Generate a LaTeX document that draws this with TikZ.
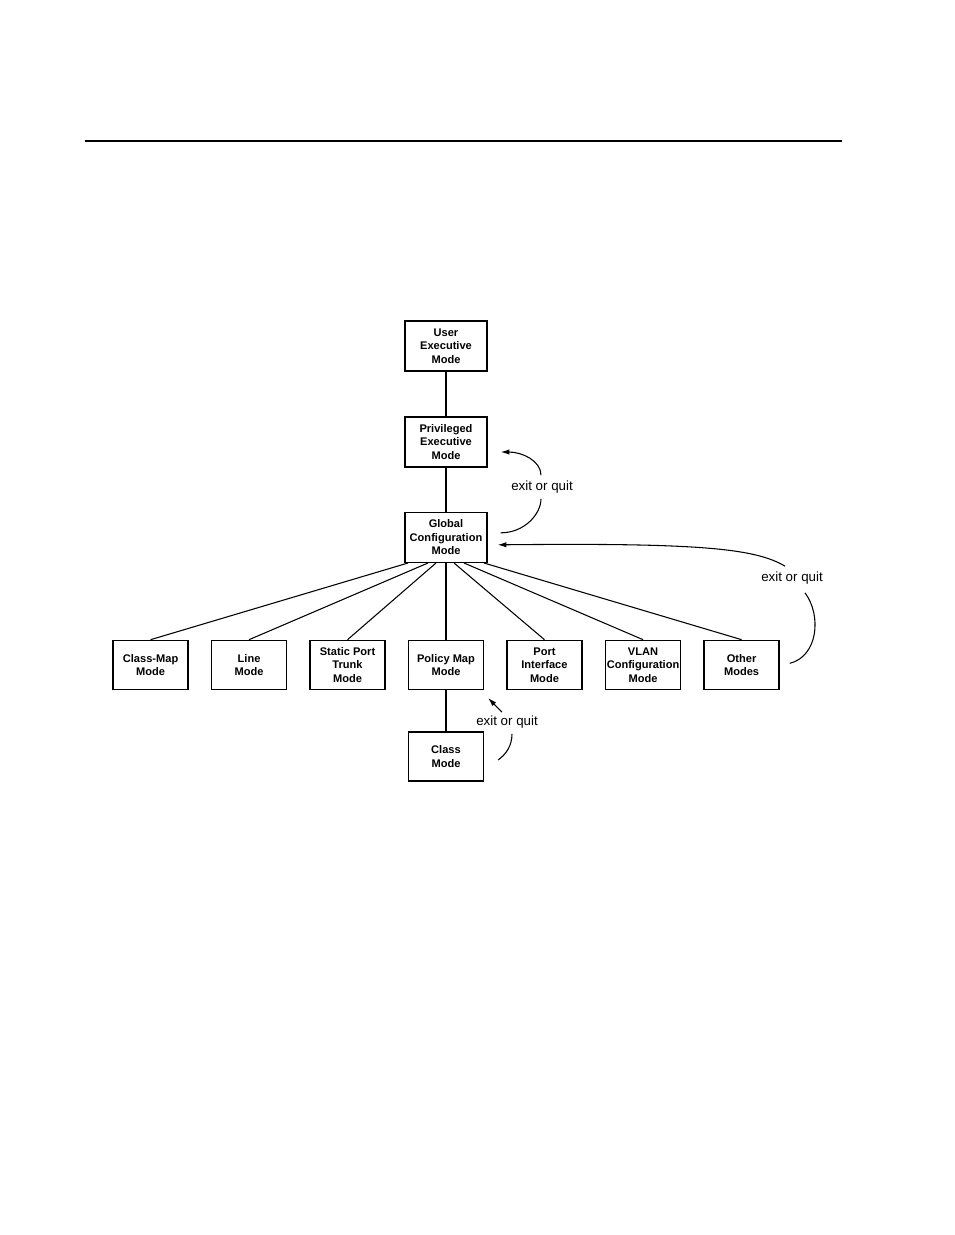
\documentclass[tikz,border=0pt]{standalone}
\usepackage{fontspec}
\setmainfont{Liberation Sans}
\usetikzlibrary{arrows.meta, positioning, calc}

\begin{document}
\begin{tikzpicture}[
    x=0.75pt, y=-0.75pt,
    font=\fontsize{8.3}{10.1}\selectfont\bfseries,
    node distance=33.5pt and 16.6pt,
    mode/.style={draw, line width=1pt, align=center, inner sep=1pt, minimum width=61.5pt, minimum height=37.5pt},
    submode/.style={mode, minimum width=56.25pt, minimum height=36.75pt},
    quit/.style={font=\fontsize{10}{12}\selectfont, inner sep=4pt},
    link/.style={line width=0.8pt},
    back/.style={line width=0.8pt, -{Latex[length=6.5pt, width=4pt]}}
]
\useasboundingbox (0,0) rectangle (954,1235);
\draw[line width=0.8pt] (85,141) -- (842,141);

\node[mode] (user) at (446,346) {User\\Executive\\Mode};
\node[mode, below=of user] (priv) {Privileged\\Executive\\Mode};
\node[mode, below=33pt of priv] (glob) {Global\\Configuration\\Mode};
\node[submode, below=57.5pt of glob] (policy) {Policy Map\\Mode};
\node[submode, left=of policy] (static) {Static Port\\Trunk\\Mode};
\node[submode, left=of static] (line) {Line\\Mode};
\node[submode, left=of line] (classmap) {Class-Map\\Mode};
\node[submode, right=of policy] (port) {Port\\Interface\\Mode};
\node[submode, right=of port] (vlan) {VLAN\\Configuration\\Mode};
\node[submode, right=of vlan] (other) {Other\\Modes};
\node[submode, below=31pt of policy] (class) {Class\\Mode};

\node[quit] (quit1) at (542,487) {exit or quit};
\node[quit] (quit2) at (792,578) {exit or quit};
\node[quit] (quit3) at (507,722) {exit or quit};

\draw[link] (user) -- (priv);
\draw[link] (priv) -- (glob);
\foreach \n/\dx in {classmap/-38, line/-18, static/-10, policy/0, port/8, vlan/18, other/38}
    \draw[link] ($(glob.south)+(\dx,0)$) -- (\n.north);
\draw[link] (policy) -- (class);

% exit or quit
\draw[back] ($(quit1.north)+(-1,0)$) .. controls +(0,-14) and +(22,0) .. ($(priv.east)+(13,10)$);
\draw[link] ($(quit1.south)+(-1,0)$) .. controls +(0,15) and +(24,0) .. ($(glob.east)+(13,-4.5)$);
\draw[back] ($(quit2.north)+(-7,0)$) .. controls +(-30,-18) and +(200,-2) .. ($(glob.east)+(10,7.5)$);
\draw[link] ($(quit2.south)+(13,3)$) .. controls +(17,23) and +(28,-7) .. ($(other.east)+(10,-1.5)$);
\draw[back] ($(quit3.north)+(-5,2)$) -- ($(policy.south east)+(4,8)$);
\draw[link] ($(quit3.south)+(5,0)$) .. controls +(0,12) and +(8,-6) .. ($(class.east)+(14,3.5)$);
\end{tikzpicture}
\end{document}
